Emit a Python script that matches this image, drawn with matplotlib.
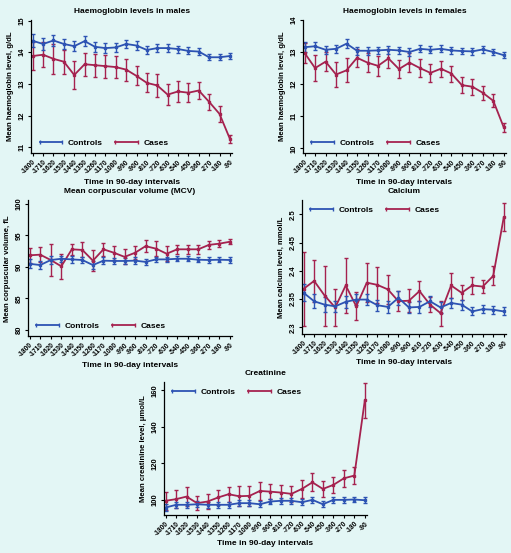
import matplotlib
matplotlib.use("Agg")
import matplotlib.pyplot as plt
from matplotlib.lines import Line2D
from matplotlib.ticker import FuncFormatter

BG = '#e3f6f5'
BLUE = '#2d53b3'
RED = '#a5224f'

interval_labels = ['-1800', '-1710', '-1620', '-1530', '-1440', '-1350', '-1260', '-1170', '-1080', '-990',
                   '-900', '-810', '-720', '-630', '-540', '-450', '-360', '-270', '-180', '-90']

# Haemoglobin, males
hb_m_controls = [14.36, 14.26, 14.37, 14.26, 14.19, 14.35, 14.17, 14.13, 14.15, 14.26,
                 14.21, 14.07, 14.13, 14.13, 14.10, 14.04, 14.02, 13.84, 13.84, 13.88]
hb_m_controls_err = [0.20, 0.18, 0.17, 0.17, 0.16, 0.15, 0.16, 0.15, 0.15, 0.14,
                     0.13, 0.12, 0.12, 0.12, 0.11, 0.11, 0.11, 0.10, 0.10, 0.10]
hb_m_cases = [13.88, 13.92, 13.79, 13.70, 13.28, 13.62, 13.59, 13.56, 13.53, 13.45,
              13.25, 13.03, 12.95, 12.66, 12.76, 12.72, 12.79, 12.43, 12.05, 11.26]
hb_m_cases_err = [0.45, 0.40, 0.48, 0.38, 0.45, 0.36, 0.36, 0.36, 0.35, 0.35,
                  0.30, 0.30, 0.35, 0.33, 0.33, 0.30, 0.28, 0.25, 0.25, 0.12]

# Haemoglobin, females
hb_f_controls = [13.15, 13.18, 13.07, 13.10, 13.26, 13.04, 13.04, 13.05, 13.07, 13.05,
                 13.00, 13.10, 13.07, 13.10, 13.05, 13.03, 13.02, 13.08, 13.00, 12.90]
hb_f_controls_err = [0.15, 0.13, 0.13, 0.13, 0.13, 0.12, 0.12, 0.12, 0.12, 0.12,
                     0.11, 0.11, 0.11, 0.11, 0.10, 0.10, 0.10, 0.10, 0.10, 0.09]
hb_f_cases = [12.97, 12.50, 12.70, 12.30, 12.43, 12.82, 12.67, 12.57, 12.80, 12.47,
              12.67, 12.50, 12.35, 12.48, 12.33, 11.97, 11.92, 11.73, 11.48, 10.65]
hb_f_cases_err = [0.30, 0.40, 0.30, 0.40, 0.37, 0.28, 0.30, 0.32, 0.30, 0.28,
                  0.30, 0.28, 0.28, 0.25, 0.25, 0.25, 0.25, 0.22, 0.20, 0.15]

# MCV
mcv_controls = [90.5, 90.3, 91.1, 91.3, 91.2, 91.1, 90.3, 91.0, 90.95, 90.95,
                91.0, 90.8, 91.2, 91.2, 91.3, 91.3, 91.15, 91.1, 91.15, 91.1]
mcv_controls_err = [0.7, 0.6, 0.6, 0.5, 0.5, 0.5, 0.6, 0.5, 0.5, 0.5,
                    0.5, 0.5, 0.4, 0.4, 0.4, 0.4, 0.4, 0.4, 0.4, 0.4]
mcv_cases = [91.85, 91.95, 91.1, 90.1, 92.8, 92.7, 91.0, 92.8, 92.25, 91.6,
             92.25, 93.3, 92.9, 92.1, 92.8, 92.8, 92.8, 93.5, 93.7, 94.0]
mcv_cases_err = [1.2, 1.2, 2.5, 2.0, 0.9, 1.2, 1.7, 1.0, 1.1, 1.2,
                 1.0, 1.0, 1.2, 1.2, 0.7, 0.7, 0.7, 0.6, 0.6, 0.4]

# Calcium
ca_controls = [2.361, 2.346, 2.340, 2.337, 2.345, 2.349, 2.349, 2.339, 2.336, 2.352,
               2.335, 2.336, 2.346, 2.335, 2.343, 2.340, 2.328, 2.332, 2.331, 2.328]
ca_controls_err = [0.015, 0.012, 0.013, 0.010, 0.011, 0.010, 0.010, 0.010, 0.010, 0.012,
                   0.010, 0.010, 0.010, 0.010, 0.009, 0.009, 0.007, 0.007, 0.007, 0.007]
ca_cases = [2.368, 2.382, 2.356, 2.335, 2.374, 2.337, 2.379, 2.375, 2.367, 2.346,
            2.347, 2.364, 2.340, 2.325, 2.374, 2.361, 2.374, 2.372, 2.391, 2.495]
ca_cases_err = [0.065, 0.037, 0.053, 0.032, 0.048, 0.025, 0.035, 0.032, 0.025, 0.018,
                0.020, 0.018, 0.013, 0.022, 0.022, 0.013, 0.015, 0.012, 0.017, 0.025]

# Creatinine
cr_controls = [95.8, 97.3, 97.3, 97.6, 97.3, 97.3, 97.3, 98.2, 98.2, 97.6,
               99.1, 99.5, 99.5, 98.7, 100.0, 97.6, 100.0, 100.0, 100.2, 99.8]
cr_controls_err = [1.8, 1.8, 1.7, 1.7, 1.7, 1.6, 1.6, 1.6, 1.6, 1.6,
                   1.6, 1.6, 1.6, 1.6, 1.6, 1.6, 1.6, 1.6, 1.6, 1.6]
cr_cases = [99.5, 100.4, 101.8, 98.2, 99.1, 101.3, 103.1, 102.0, 102.2, 104.9,
            104.5, 104.0, 103.3, 106.0, 109.6, 106.0, 108.2, 111.8, 113.3, 154.5]
cr_cases_err = [5.0, 5.0, 5.0, 4.0, 4.0, 4.0, 4.0, 5.5, 5.5, 5.0,
                4.0, 4.0, 4.5, 5.0, 5.0, 4.5, 4.5, 4.5, 4.7, 9.5]

panels = [
    dict(rect=[0.061, 0.723, 0.393, 0.241], title='Haemoglobin levels in males',
         ylabel='Mean haemoglobin level, g/dL', ctl=hb_m_controls, ctl_err=hb_m_controls_err,
         cas=hb_m_cases, cas_err=hb_m_cases_err, ylim=(10.81, 15.02), yticks=[11, 12, 13, 14, 15],
         legend='lower left'),
    dict(rect=[0.593, 0.723, 0.397, 0.241], title='Haemoglobin levels in females',
         ylabel='Mean haemoglobin level, g/dL', ctl=hb_f_controls, ctl_err=hb_f_controls_err,
         cas=hb_f_cases, cas_err=hb_f_cases_err, ylim=(9.85, 14.0), yticks=[10, 11, 12, 13, 14],
         legend='lower left'),
    dict(rect=[0.055, 0.392, 0.399, 0.246], title='Mean corpuscular volume (MCV)',
         ylabel='Mean corpuscular volume, fL', ctl=mcv_controls, ctl_err=mcv_controls_err,
         cas=mcv_cases, cas_err=mcv_cases_err, ylim=(79.0, 100.6), yticks=[80, 85, 90, 95, 100],
         legend='lower left'),
    dict(rect=[0.591, 0.396, 0.399, 0.242], title='Calcium',
         ylabel='Mean calcium level, mmol/L', ctl=ca_controls, ctl_err=ca_controls_err,
         cas=ca_cases, cas_err=ca_cases_err, ylim=(2.288, 2.525), yticks=[2.3, 2.35, 2.4, 2.45, 2.5],
         legend='upper left'),
    dict(rect=[0.321, 0.069, 0.397, 0.240], title='Creatinine',
         ylabel='Mean creatinine level, μmol/L', ctl=cr_controls, ctl_err=cr_controls_err,
         cas=cr_cases, cas_err=cr_cases_err, ylim=(91.8, 164.5), yticks=[100, 120, 140, 160],
         legend='upper left'),
]

plt.rcParams['font.family'] = ['Liberation Sans Narrow', 'Liberation Sans', 'DejaVu Sans']
plt.rcParams['font.weight'] = 'bold'

fig = plt.figure(figsize=(5.11, 5.53), dpi=100, facecolor=BG)

x = list(range(len(interval_labels)))
for p in panels:
    ax = fig.add_axes(p['rect'])
    ax.set_facecolor(BG)
    for vals, errs, col in [(p['cas'], p['cas_err'], RED), (p['ctl'], p['ctl_err'], BLUE)]:
        ax.errorbar(x, vals, yerr=errs, color=col, ecolor=col, lw=1.3, elinewidth=1.0,
                    capsize=1.6, capthick=1.0, marker='s', ms=1.8)
    ax.set_xlim(-0.15, 19.2)
    ax.set_ylim(*p['ylim'])
    ax.set_yticks(p['yticks'])
    ax.yaxis.set_major_formatter(FuncFormatter(lambda v, pos: '%g' % v))
    ax.set_xticks(x)
    ax.set_xticklabels(interval_labels, rotation=45, ha='right', rotation_mode='anchor', fontsize=4.8)
    for lab in ax.get_yticklabels():
        lab.set_rotation(90)
        lab.set_va('center')
        lab.set_fontsize(5.5)
    ax.tick_params(length=2.5, width=0.8, pad=1.5)
    ax.spines['top'].set_visible(False)
    ax.spines['right'].set_visible(False)
    ax.spines['left'].set_linewidth(0.9)
    ax.spines['bottom'].set_linewidth(0.9)
    ax.set_title(p['title'], fontsize=6, fontweight='bold', pad=5)
    ax.set_xlabel('Time in 90-day intervals', fontsize=6, fontweight='bold', labelpad=2)
    ax.set_ylabel(p['ylabel'], fontsize=5.6, fontweight='bold', labelpad=3)
    handles = [Line2D([], [], color=BLUE, lw=1.3, marker='|', ms=3, mew=1.0),
               Line2D([], [], color=RED, lw=1.3, marker='|', ms=3, mew=1.0)]
    ax.legend(handles, ['Controls', 'Cases'], loc=p['legend'], ncol=2, frameon=False,
              numpoints=2, handlelength=3.3, handletextpad=0.4, columnspacing=1.2,
              prop={'size': 6, 'weight': 'bold'}, borderaxespad=0.3)

fig.savefig('out.png', dpi=100, facecolor=BG)
